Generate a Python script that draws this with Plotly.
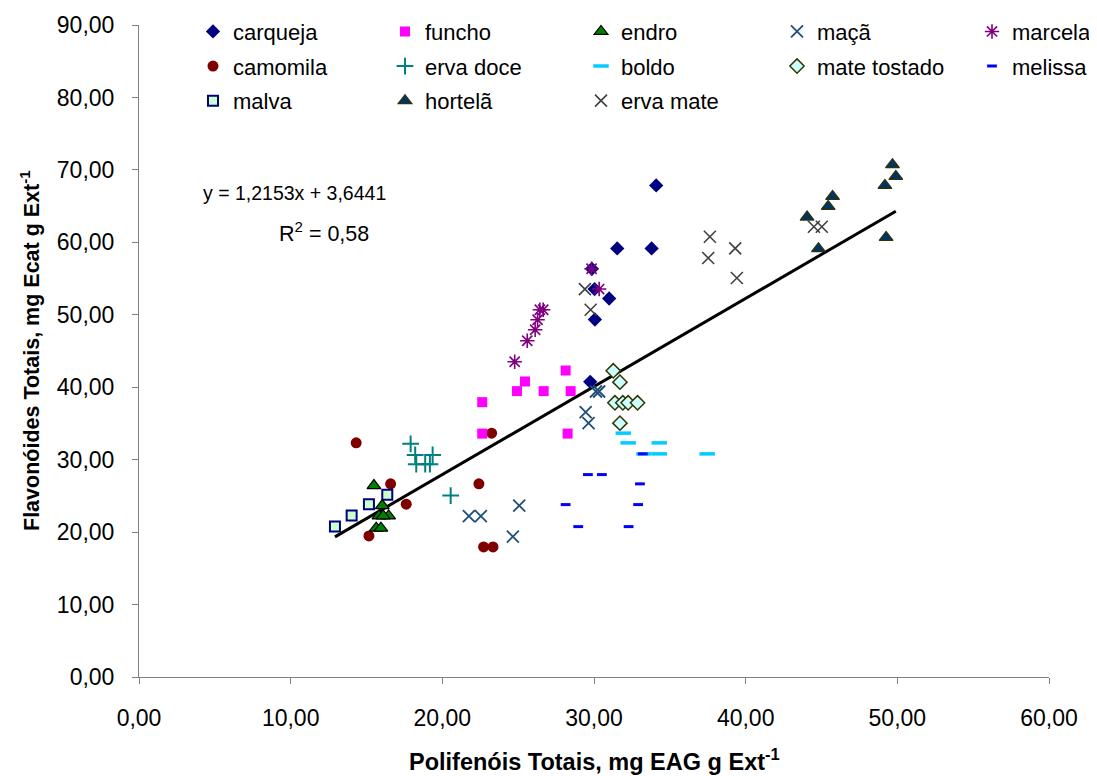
import plotly.graph_objects as go

# ---- data ----
carqueja_x = [34.10, 31.53, 33.80, 30.04, 31.00, 30.06, 29.75, 29.86]
carqueja_y = [67.86, 59.16, 59.16, 53.55, 52.25, 49.35, 40.75, 56.35]

funcho_x = [28.13, 25.45, 24.92, 26.68, 28.46, 22.63, 22.63, 28.26]
funcho_y = [42.31, 40.79, 39.46, 39.46, 39.46, 37.94, 33.60, 33.60]

endro_x = [15.49, 16.04, 15.82, 16.46, 15.64, 15.95, 16.10]
endro_y = [26.42, 23.66, 22.24, 22.24, 20.54, 20.54, 22.24]

maca_x = [29.45, 29.64, 25.07, 21.75, 22.54, 24.65, 30.13, 30.34]
maca_y = [36.56, 35.04, 23.66, 22.20, 22.20, 19.38, 39.41, 39.41]

marcela_x = [29.84, 30.34, 26.43, 26.65, 26.28, 26.12, 25.60, 24.77]
marcela_y = [56.35, 53.55, 50.69, 50.69, 49.31, 47.93, 46.41, 43.51]

camomila_x = [14.32, 16.59, 17.62, 15.16, 23.25, 22.41, 22.72, 23.34]
camomila_y = [32.32, 26.66, 23.85, 19.48, 33.66, 26.66, 17.96, 17.96]

ervadoce_x = [17.91, 18.21, 19.36, 18.28, 18.87, 19.18, 20.55]
ervadoce_y = [32.18, 30.66, 30.66, 29.38, 29.38, 29.38, 25.04]

boldo_x = [31.93, 32.25, 34.30, 33.29, 34.30, 37.46]
boldo_y = [33.66, 32.32, 32.32, 30.80, 30.80, 30.80]

matetostado_x = [31.27, 31.71, 31.38, 31.90, 32.25, 32.87, 31.71]
matetostado_y = [42.27, 40.70, 37.85, 37.85, 37.85, 37.85, 35.04]

melissa_x = [33.22, 29.60, 30.52, 33.03, 28.13, 32.91, 28.96, 32.28]
melissa_y = [30.80, 27.94, 27.94, 26.66, 23.80, 23.80, 20.76, 20.76]

malva_x = [12.92, 14.02, 15.16, 16.37]
malva_y = [20.76, 22.28, 23.85, 25.14]

hortela_x = [49.68, 49.90, 49.18, 45.73, 45.44, 44.05, 49.26, 44.80]
hortela_y = [70.72, 69.10, 67.86, 66.34, 64.96, 63.49, 60.68, 59.12]

ervamate_x = [37.64, 39.31, 37.53, 39.42, 29.40, 29.78, 44.50, 45.02]
ervamate_y = [60.77, 59.16, 57.83, 55.07, 53.55, 50.69, 62.15, 62.15]

trend_slope = 1.2153
trend_intercept = 3.6441
equation_text = "y = 1,2153x + 3,6441"
r2_text = "R<sup>2</sup> = 0,58"

x_ticks = [0, 10, 20, 30, 40, 50, 60]
y_ticks = [0, 10, 20, 30, 40, 50, 60, 70, 80, 90]

FONT = "Liberation Sans, Arial, sans-serif"
FS = 23

series = [
    # name, x, y, symbol, size, fill, line color, line width, legend id
    ("carqueja", carqueja_x, carqueja_y, "diamond", 11, "#000080", "#000080", 0, "legend"),
    ("camomila", camomila_x, camomila_y, "circle", 11, "#800000", "#800000", 0, "legend"),
    ("malva", malva_x, malva_y, "square", 10, "#CCFFCC", "#000080", 2, "legend"),
    ("funcho", funcho_x, funcho_y, "square", 10, "#FF00FF", "#FF00FF", 0, "legend2"),
    ("erva doce", ervadoce_x, ervadoce_y, "cross-thin-open", 12, "#008080", "#008080", 2, "legend2"),
    ("hortelã", hortela_x, hortela_y, "triangle-up", 12, "#003366", "#333300", 1.2, "legend2"),
    ("endro", endro_x, endro_y, "triangle-up", 12, "#008000", "#000000", 1.2, "legend3"),
    ("boldo", boldo_x, boldo_y, "line-ew-open", 11, "#00CCFF", "#00CCFF", 3.5, "legend3"),
    ("erva mate", ervamate_x, ervamate_y, "x-thin-open", 12, "#404040", "#404040", 1.6, "legend3"),
    ("maçã", maca_x, maca_y, "x-thin-open", 12, "#1F4E79", "#1F4E79", 1.8, "legend4"),
    ("mate tostado", matetostado_x, matetostado_y, "diamond", 11, "#CCFFFF", "#333300", 1.5, "legend4"),
    ("marcela", marcela_x, marcela_y, "asterisk-open", 12, "#800080", "#800080", 1.6, "legend5"),
    ("melissa", melissa_x, melissa_y, "line-ew-open", 7, "#0000FF", "#0000FF", 3, "legend5"),
]

fig = go.Figure()

# trendline from the stated regression, spanning the data range
all_x = sum([s[1] for s in series], [])
xmin, xmax = min(all_x), max(all_x)
fig.add_trace(go.Scatter(
    x=[xmin, xmax],
    y=[trend_slope * xmin + trend_intercept, trend_slope * xmax + trend_intercept],
    mode="lines", line=dict(color="black", width=3), showlegend=False, hoverinfo="skip",
))

for i, (name, xs, ys, sym, size, fill, lc, lw, leg) in enumerate(series):
    fig.add_trace(go.Scatter(
        x=xs, y=ys, mode="markers", name=name, legend=leg, legendgroup="g%d" % i,
        marker=dict(symbol=sym, size=size, color=fill, line=dict(color=lc, width=lw)),
    ))

# page body has an 8px margin: figure origin sits at (8, 8) in the window
OFF = 8
W, H = 1097 - OFF, 776 - OFF
plot_l, plot_r, plot_t, plot_b = 139 - OFF, 1049 - OFF, 25 - OFF, 677 - OFF
pw = plot_r - plot_l
ph = plot_b - plot_t

leg_common = dict(
    font=dict(family=FONT, size=22, color="black"),
    bgcolor="rgba(0,0,0,0)", borderwidth=0, orientation="v",
    tracegroupgap=3, yanchor="top", xanchor="left", y=1.022, itemsizing="trace",
)
col_px = [193, 385, 581, 777, 972]
legs = {}
for k, px in enumerate(col_px):
    key = "legend" if k == 0 else "legend%d" % (k + 1)
    legs[key] = dict(leg_common, x=(px - OFF - plot_l) / pw)

axis_common = dict(
    showgrid=False, zeroline=False, showline=True, linecolor="#808080", linewidth=1,
    ticks="outside", ticklen=6, tickcolor="#808080", tickwidth=1,
    tickfont=dict(family=FONT, size=FS, color="black"), tickformat=".2f",
)

fig.update_layout(
    width=W, height=H,
    paper_bgcolor="white", plot_bgcolor="white",
    separators=",.",
    margin=dict(l=plot_l, r=W - plot_r, t=plot_t, b=H - plot_b, autoexpand=False),
    xaxis=dict(axis_common, range=[0, 60], tickvals=x_ticks, ticklabelstandoff=14),
    yaxis=dict(axis_common, range=[0, 90], tickvals=y_ticks, ticklabelstandoff=13),
    **legs,
    annotations=[
        dict(text=equation_text, x=10.22, y=66.85, xref="x", yref="y", showarrow=False,
             font=dict(family=FONT, size=19.5, color="black")),
        dict(text=r2_text, x=12.2, y=61.46, xref="x", yref="y", showarrow=False,
             font=dict(family=FONT, size=21.5, color="black")),
        dict(text="<b>Polifenóis Totais, mg EAG g Ext<sup>-1</sup></b>", x=0.5, y=-(760 - OFF - plot_b) / ph,
             xref="paper", yref="paper", showarrow=False, xanchor="center", yanchor="middle",
             font=dict(family=FONT, size=23.5, color="black")),
        dict(text="<b>Flavonóides Totais, mg Ecat g Ext<sup>-1</sup></b>", x=-(plot_l - (30 - OFF)) / pw, y=0.5,
             xref="paper", yref="paper", showarrow=False, xanchor="center", yanchor="middle",
             textangle=-90, font=dict(family=FONT, size=21.5, color="black")),
    ],
)

fig.write_html("out.html")
